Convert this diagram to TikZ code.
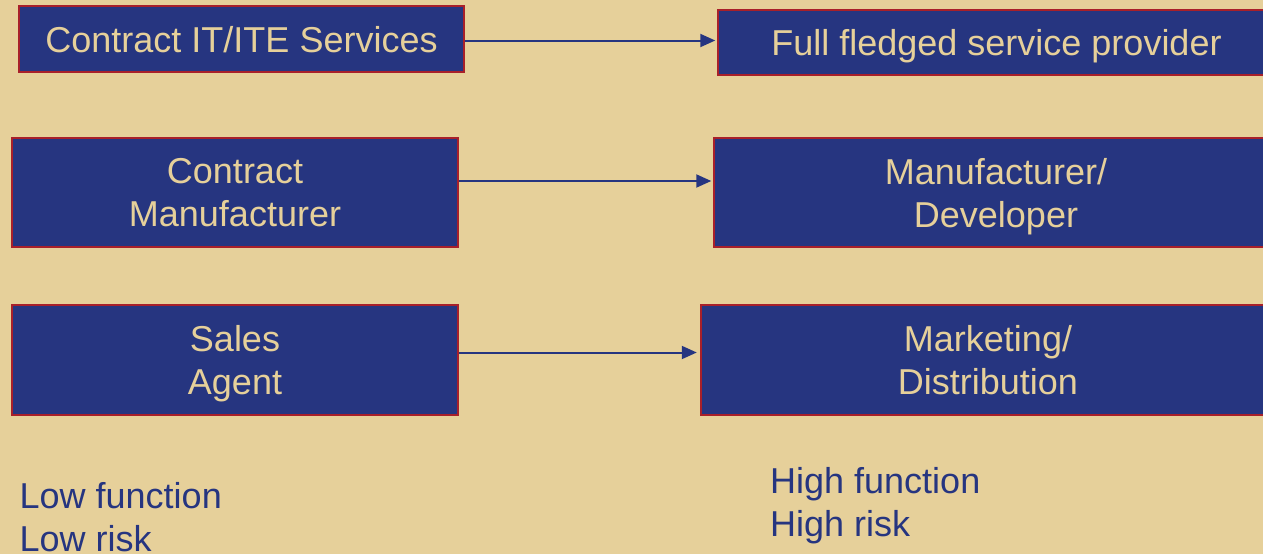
\documentclass[tikz,border=0pt]{standalone}
\usepackage{fontspec}
\setmainfont{Liberation Sans}
\usetikzlibrary{arrows.meta}
\definecolor{bg}{HTML}{E6D09A}
\definecolor{boxblue}{HTML}{263580}
\definecolor{boxred}{HTML}{A8202A}
\definecolor{txtblue}{HTML}{263580}
\tikzset{
  box/.style={rectangle, draw=boxred, fill=boxblue, line width=2.5pt, inner sep=0pt,
    text=bg, align=center, text depth=0pt, font=\fontsize{36}{43}\selectfont},
  arr/.style={draw=boxblue, line width=2pt, -{Triangle[length=15pt,width=13pt]}},
  note/.style={text=txtblue, align=left, inner sep=0pt, anchor=base west,
    font=\fontsize{36}{43}\selectfont}
}
\begin{document}
\begin{tikzpicture}[x=1pt,y=-1pt]
\fill[bg] (0,0) rectangle (1263,554);
\useasboundingbox (0,0) rectangle (1263,554);
\node[box, minimum width=445pt, minimum height=66pt] (b1) at (241.5,39) {Contract IT/ITE Services};
\node[box, minimum width=557pt, minimum height=65pt] (b2) at (996.5,42.5) {Full fledged service provider};
\node[box, minimum width=446pt, minimum height=109pt] (b3) at (235,192.5) {Contract\\Manufacturer};
\node[box, minimum width=564pt, minimum height=109pt] (b4) at (996,192.5) {Manufacturer/\\Developer};
\node[box, minimum width=446pt, minimum height=110pt] (b5) at (235,360) {Sales\\Agent};
\node[box, minimum width=574pt, minimum height=110pt] (b6) at (988,360) {Marketing/\\Distribution};
\coordinate (s1) at ([yshift=-1.5pt]b1.east);
\coordinate (s2) at ([yshift=11.5pt]b3.east);
\coordinate (s3) at ([yshift=7.5pt]b5.east);
\draw[arr] (s1) -- ([xshift=-1.5pt]s1 -| b2.west);
\draw[arr] (s2) -- ([xshift=-1.5pt]s2 -| b4.west);
\draw[arr] (s3) -- ([xshift=-3pt]s3 -| b6.west);
\node[note] (low) at (19.5,551) {Low function\\Low risk};
\node[note] (high) at (770,536) {High function\\High risk};
\end{tikzpicture}
\end{document}
